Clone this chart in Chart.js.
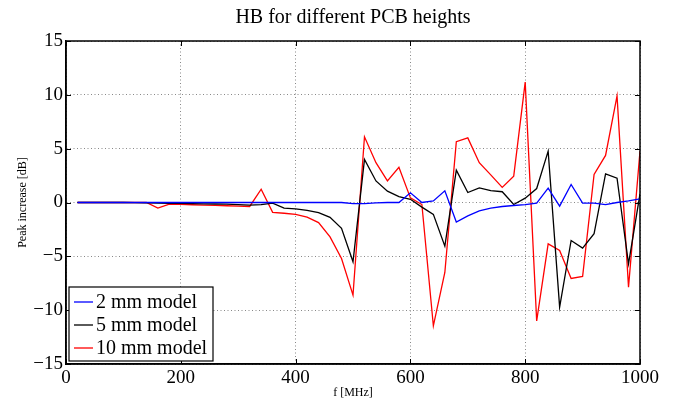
<!DOCTYPE html>
<html>
<head>
<meta charset="utf-8">
<title>HB for different PCB heights</title>
<script src="https://cdn.jsdelivr.net/npm/chart.js@4.4.1/dist/chart.umd.min.js"></script>
<style>
  html, body { margin: 0; padding: 0; background: #fff; }
  #wrap { width: 673px; height: 400px; }
</style>
</head>
<body>
<div id="wrap"><canvas id="grafico" width="673" height="400"></canvas></div>
<script>
// frequency points [MHz]
const freqs = [20, 40, 60, 80, 100, 120, 140, 160, 180, 200,
  220, 240, 260, 280, 300, 320, 340, 360, 380, 400,
  420, 440, 460, 480, 500, 520, 540, 560, 580, 600,
  620, 640, 660, 680, 700, 720, 740, 760, 780, 800,
  820, 840, 860, 880, 900, 920, 940, 960, 980, 1000];

// peak increase [dB]
const model2mm = [0, 0, 0, 0, 0, 0, 0, 0, 0, 0,
  0, 0, 0, 0, 0, 0, 0, 0, 0, 0,
  0, 0, 0, 0, -0.1, -0.1, -0.03, 0, 0, 0.9,
  0, 0.15, 1.08, -1.82, -1.25, -0.77, -0.53, -0.37, -0.28, -0.19,
  -0.06, 1.33, -0.34, 1.67, -0.06, -0.06, -0.19, 0, 0.15, 0.34];

const model5mm = [0, 0, 0, 0, 0, -0.02, -0.03, -0.05, -0.07, -0.09,
  -0.1, -0.12, -0.14, -0.16, -0.2, -0.25, -0.2, -0.06, -0.52, -0.6,
  -0.74, -0.95, -1.38, -2.4, -5.5, 4.0, 2.0, 1.05, 0.55, 0.3,
  -0.43, -1.1, -4.05, 3.0, 0.93, 1.36, 1.1, 1.0, -0.19, 0.4,
  1.3, 4.77, -9.72, -3.53, -4.24, -2.9, 2.66, 2.26, -5.7, 0.8];

const model10mm = [0, 0, 0, 0, 0, 0, 0, -0.52, -0.15, -0.18,
  -0.21, -0.24, -0.27, -0.3, -0.33, -0.37, 1.23, -0.92, -1.0, -1.1,
  -1.36, -1.87, -3.2, -5.2, -8.6, 6.1, 3.7, 2.0, 3.27, 0.43,
  -0.19, -11.45, -6.5, 5.65, 6.0, 3.7, 2.57, 1.4, 2.45, 11.18,
  -11.0, -3.84, -4.46, -7.06, -6.87, 2.6, 4.37, 9.9, -7.86, 4.77];

const seriesLabels = ["2 mm model", "5 mm model", "10 mm model"];
const seriesColors = ["#0000ff", "#000000", "#ff0000"];
const chartTitle = "HB for different PCB heights";

const serif = "'Liberation Serif', 'DejaVu Serif', serif";

function toPoints(values) {
  return values.map((v, i) => ({ x: freqs[i], y: v }));
}

// title over the axes, box, inward ticks (matlab style) and legend in the lower left corner
const matlabAxes = {
  id: "matlabAxes",
  afterDatasetsDraw(chart) {
    const ctx = chart.ctx;
    const area = chart.chartArea;
    const xs = chart.scales.x;
    const ys = chart.scales.y;
    const len = 5;

    ctx.save();
    ctx.fillStyle = "#000";
    ctx.font = "20px " + serif;
    ctx.textAlign = "center";
    ctx.textBaseline = "middle";
    ctx.fillText(chartTitle, (area.left + area.right) / 2, 18);

    ctx.strokeStyle = "#000";
    ctx.lineWidth = 1;
    ctx.beginPath();
    xs.ticks.forEach(t => {
      const px = Math.round(xs.getPixelForValue(t.value)) + 0.5;
      ctx.moveTo(px, area.bottom);
      ctx.lineTo(px, area.bottom - len);
      ctx.moveTo(px, area.top);
      ctx.lineTo(px, area.top + len);
    });
    ys.ticks.forEach(t => {
      const py = Math.round(ys.getPixelForValue(t.value)) + 0.5;
      ctx.moveTo(area.left, py);
      ctx.lineTo(area.left + len, py);
      ctx.moveTo(area.right, py);
      ctx.lineTo(area.right - len, py);
    });
    ctx.stroke();

    ctx.lineWidth = 1.5;
    ctx.strokeRect(area.left, area.top, area.right - area.left, area.bottom - area.top);

    // legend
    const boxX = area.left + 3;
    const boxW = 144;
    const rowH = 23;
    const boxH = 74;
    const boxY = area.bottom - 3 - boxH;
    ctx.fillStyle = "#fff";
    ctx.fillRect(boxX, boxY, boxW, boxH);
    ctx.lineWidth = 1.2;
    ctx.strokeRect(boxX, boxY, boxW, boxH);

    ctx.font = "20px " + serif;
    ctx.textAlign = "left";
    ctx.textBaseline = "middle";
    chart.data.datasets.forEach((ds, i) => {
      const cy = boxY + 15 + i * rowH;
      ctx.strokeStyle = ds.borderColor;
      ctx.lineWidth = 1.3;
      ctx.beginPath();
      ctx.moveTo(boxX + 5, cy);
      ctx.lineTo(boxX + 24, cy);
      ctx.stroke();
      ctx.fillStyle = "#000";
      ctx.fillText(ds.label, boxX + 27, cy + 1);
    });
    ctx.restore();
  }
};

new Chart(document.getElementById("grafico"), {
  type: "line",
  data: {
    datasets: [
      { label: seriesLabels[0], data: toPoints(model2mm), borderColor: seriesColors[0] },
      { label: seriesLabels[1], data: toPoints(model5mm), borderColor: seriesColors[1] },
      { label: seriesLabels[2], data: toPoints(model10mm), borderColor: seriesColors[2] }
    ]
  },
  options: {
    responsive: false,
    animation: false,
    devicePixelRatio: 1,
    layout: { padding: { left: 0, right: 33, top: 41, bottom: 0 } },
    elements: {
      point: { radius: 0 },
      line: { borderWidth: 1.3, tension: 0 }
    },
    plugins: {
      legend: { display: false },
      tooltip: { enabled: false },
      title: { display: false }
    },
    scales: {
      x: {
        type: "linear",
        min: 0,
        max: 1000,
        ticks: {
          stepSize: 200,
          color: "#000",
          padding: 3,
          maxRotation: 0,
          font: { family: serif, size: 19 },
          callback: v => String(v)
        },
        grid: {
          color: "#888",
          lineWidth: 1,
          drawTicks: false
        },
        border: { display: true, color: "#000", width: 1.5, dash: [1, 2.5] },
        title: {
          display: true,
          text: "f [MHz]",
          color: "#000",
          font: { family: serif, size: 12 },
          padding: { top: 0, bottom: 0 }
        },
        afterFit(scale) { scale.height = 36; }
      },
      y: {
        min: -15,
        max: 15,
        ticks: {
          stepSize: 5,
          color: "#000",
          padding: 3,
          font: { family: serif, size: 19 },
          callback: v => String(v).replace("-", "\u2212")
        },
        grid: {
          color: "#888",
          lineWidth: 1,
          drawTicks: false
        },
        border: { display: true, color: "#000", width: 1.5, dash: [1, 2.5] },
        title: {
          display: true,
          text: "Peak increase [dB]",
          color: "#000",
          font: { family: serif, size: 12 },
          padding: { top: 16, bottom: 0 }
        },
        afterFit(scale) { scale.width = 66; }
      }
    }
  },
  plugins: [matlabAxes]
});
</script>
</body>
</html>
